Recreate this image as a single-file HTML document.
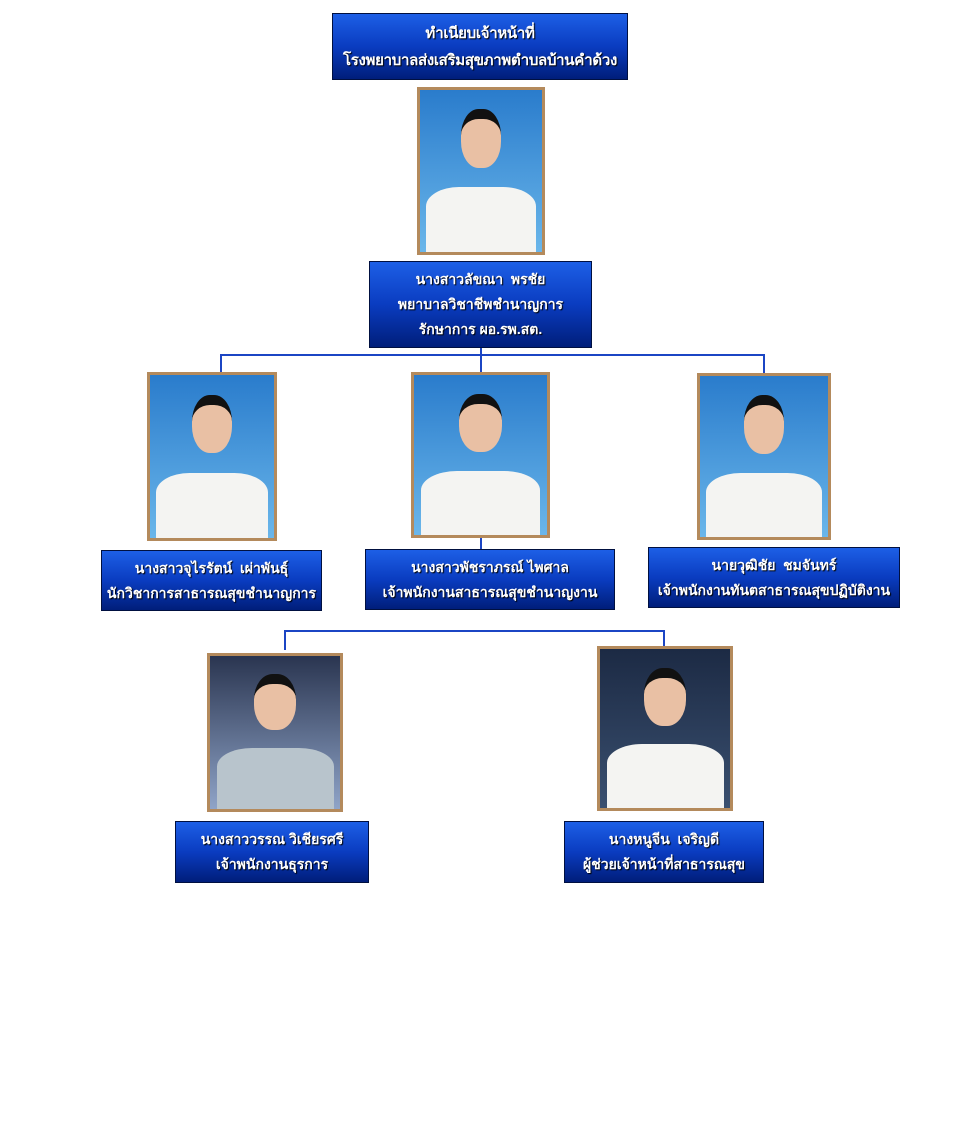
<!DOCTYPE html>
<html><head><meta charset="utf-8"><style>
body{margin:0;width:960px;height:1134px;background:#fff;position:relative;overflow:hidden;font-family:"Liberation Sans","DejaVu Sans",sans-serif}
.b{position:absolute;box-sizing:border-box;border:1px solid #001040;background:linear-gradient(#1d5fe6,#0a3cc0 50%,#001e7a);color:#fff;font-weight:bold;font-size:14px;text-align:center;display:flex;flex-direction:column;justify-content:center;line-height:25px;text-shadow:1px 1px 1px #000;white-space:nowrap}
.p{position:absolute;box-sizing:border-box;border:3px solid #b48a5c;background:linear-gradient(#2a7ccc,#6ab6ea);overflow:hidden}
.p.d{background:linear-gradient(#1c2a44,#3a5070)}
.p .h{position:absolute;left:34%;width:32%;top:12%;height:30%;border-radius:45%;background:#e9c0a4;border-top:10px solid #111}
.p .s{position:absolute;left:5%;width:90%;bottom:0;height:40%;border-radius:30% 30% 0 0;background:#f4f4f2}
.l{position:absolute;background:#1b45c4}
</style></head><body>
<div class="b" style="left:332px;top:13px;width:296px;height:67px;font-size:15px;line-height:27px;letter-spacing:-0.3px">ทำเนียบเจ้าหน้าที่<br>โรงพยาบาลส่งเสริมสุขภาพตำบลบ้านคำด้วง</div>
<div class="p" style="left:417px;top:87px;width:128px;height:168px"><div class="h"></div><div class="s"></div></div>
<div class="b" style="left:369px;top:261px;width:223px;height:87px">นางสาวลัขณา&nbsp; พรชัย<br>พยาบาลวิชาชีพชำนาญการ<br>รักษาการ ผอ.รพ.สต.</div>
<div class="l" style="left:480px;top:348px;width:2px;height:24px"></div>
<div class="l" style="left:220px;top:354px;width:545px;height:2px"></div>
<div class="l" style="left:220px;top:354px;width:2px;height:18px"></div>
<div class="l" style="left:763px;top:354px;width:2px;height:19px"></div>
<div class="p" style="left:147px;top:372px;width:130px;height:169px"><div class="h"></div><div class="s"></div></div>
<div class="p" style="left:411px;top:372px;width:139px;height:166px"><div class="h"></div><div class="s"></div></div>
<div class="p" style="left:697px;top:373px;width:134px;height:167px"><div class="h"></div><div class="s"></div></div>
<div class="l" style="left:480px;top:538px;width:2px;height:11px"></div>
<div class="b" style="left:101px;top:550px;width:221px;height:61px">นางสาวจุไรรัตน์&nbsp; เผ่าพันธุ์<br>นักวิชาการสาธารณสุขชำนาญการ</div>
<div class="b" style="left:365px;top:549px;width:250px;height:61px">นางสาวพัชราภรณ์ ไพศาล<br>เจ้าพนักงานสาธารณสุขชำนาญงาน</div>
<div class="b" style="left:648px;top:547px;width:252px;height:61px">นายวุฒิชัย&nbsp; ชมจันทร์<br>เจ้าพนักงานทันตสาธารณสุขปฏิบัติงาน</div>
<div class="l" style="left:284px;top:630px;width:381px;height:2px"></div>
<div class="l" style="left:284px;top:630px;width:2px;height:20px"></div>
<div class="l" style="left:663px;top:630px;width:2px;height:16px"></div>
<div class="p" style="left:207px;top:653px;width:136px;height:159px;background:linear-gradient(#2a3550,#8fa4c8)"><div class="h"></div><div class="s" style="background:#b8c4cc"></div></div>
<div class="p d" style="left:597px;top:646px;width:136px;height:165px"><div class="h"></div><div class="s"></div></div>
<div class="b" style="left:175px;top:821px;width:194px;height:62px">นางสาววรรณ วิเชียรศรี<br>เจ้าพนักงานธุรการ</div>
<div class="b" style="left:564px;top:821px;width:200px;height:62px">นางหนูจีน&nbsp; เจริญดี<br>ผู้ช่วยเจ้าหน้าที่สาธารณสุข</div>
</body></html>
